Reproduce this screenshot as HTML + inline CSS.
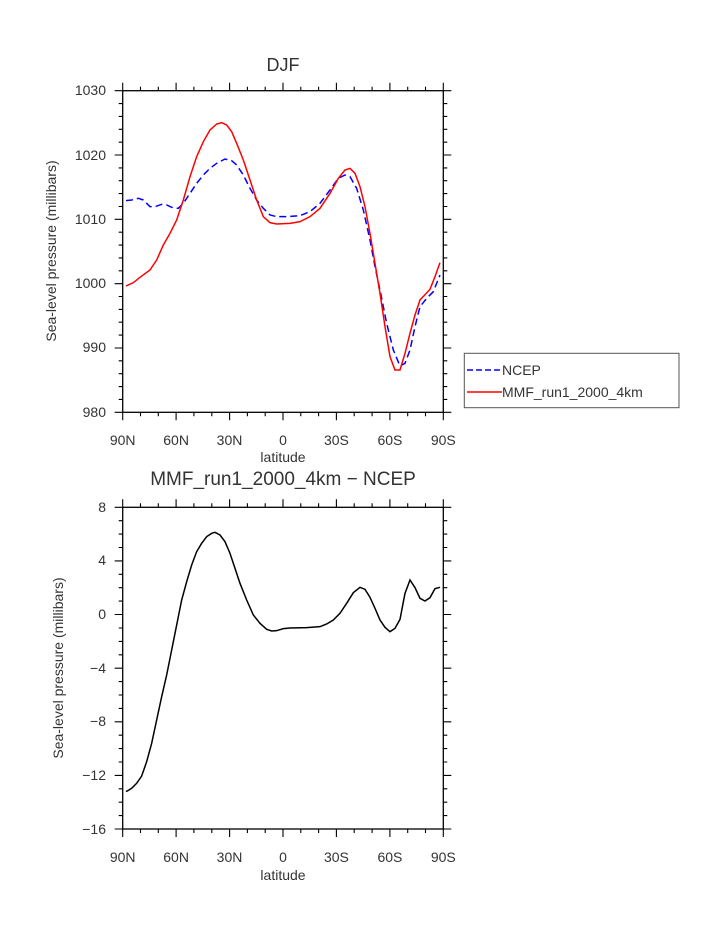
<!DOCTYPE html>
<html><head><meta charset="utf-8"><style>
body{margin:0;background:#fff;}
svg text{font-family:"Liberation Sans",sans-serif;fill:#333;}
</style></head><body>
<svg width="723" height="935" viewBox="0 0 723 935" xmlns="http://www.w3.org/2000/svg">
<text x="283" y="71" font-size="18" text-anchor="middle" fill="#555">DJF</text>
<rect x="122.7" y="90.7" width="320.6" height="321.6" fill="none" stroke="#000" stroke-width="1.3"/>
<path stroke="#000" stroke-width="1.1" fill="none" d="
M122.7 90.7v-8M140.5 90.7v-4M158.3 90.7v-4M176.1 90.7v-8M193.9 90.7v-4M211.8 90.7v-4M229.6 90.7v-8M247.4 90.7v-4M265.2 90.7v-4M283 90.7v-8M300.8 90.7v-4M318.6 90.7v-4M336.4 90.7v-8M354.2 90.7v-4M372.1 90.7v-4M389.9 90.7v-8M407.7 90.7v-4M425.5 90.7v-4M443.3 90.7v-8
M122.7 412.3v8M140.5 412.3v4M158.3 412.3v4M176.1 412.3v8M193.9 412.3v4M211.8 412.3v4M229.6 412.3v8M247.4 412.3v4M265.2 412.3v4M283 412.3v8M300.8 412.3v4M318.6 412.3v4M336.4 412.3v8M354.2 412.3v4M372.1 412.3v4M389.9 412.3v8M407.7 412.3v4M425.5 412.3v4M443.3 412.3v8
M122.7 90.7h-8M122.7 103.6h-4M122.7 116.4h-4M122.7 129.3h-4M122.7 142.2h-4M122.7 155h-8M122.7 167.9h-4M122.7 180.7h-4M122.7 193.6h-4M122.7 206.5h-4M122.7 219.3h-8M122.7 232.2h-4M122.7 245.1h-4M122.7 257.9h-4M122.7 270.8h-4M122.7 283.7h-8M122.7 296.5h-4M122.7 309.4h-4M122.7 322.2h-4M122.7 335.1h-4M122.7 348h-8M122.7 360.8h-4M122.7 373.7h-4M122.7 386.6h-4M122.7 399.4h-4M122.7 412.3h-8
M443.3 90.7h8M443.3 103.6h4M443.3 116.4h4M443.3 129.3h4M443.3 142.2h4M443.3 155h8M443.3 167.9h4M443.3 180.7h4M443.3 193.6h4M443.3 206.5h4M443.3 219.3h8M443.3 232.2h4M443.3 245.1h4M443.3 257.9h4M443.3 270.8h4M443.3 283.7h8M443.3 296.5h4M443.3 309.4h4M443.3 322.2h4M443.3 335.1h4M443.3 348h8M443.3 360.8h4M443.3 373.7h4M443.3 386.6h4M443.3 399.4h4M443.3 412.3h8"/>
<g transform="translate(100,60) scale(0.33333)" fill="none" stroke-width="1.5">
<polyline vector-effect="non-scaling-stroke" stroke="#0000ff" stroke-dasharray="7,4" points="78,422 95,420 115,415 130,420 150,440 165,440 185,433 200,435 215,442 235,445 250,430 270,400 290,370 310,345 330,325 350,310 375,297 395,302 410,315 430,345 450,385 470,420 490,445 510,465 530,470 560,470 600,467 630,455 660,430 690,390 715,355 735,345 750,350 770,385 790,450 810,540 825,620 840,690 860,790 880,870 900,918 915,910 930,870 945,800 960,740 980,715 1000,695 1020,645"/>
<polyline vector-effect="non-scaling-stroke" stroke="#ff0000" points="78,678 100,668 120,652 150,630 170,600 190,555 210,520 230,480 250,420 270,350 290,290 310,245 330,210 350,192 365,188 380,195 395,215 410,250 430,300 450,360 470,420 490,470 510,488 530,492 570,490 600,485 630,470 660,445 690,400 715,355 735,330 750,325 765,340 780,380 795,440 810,520 825,610 840,700 855,800 870,890 885,930 900,930 915,880 930,820 945,765 960,720 990,688 1005,650 1020,608"/>
</g>
<g font-size="14" text-anchor="end">
<text x="106" y="95">1030</text><text x="106" y="160">1020</text><text x="106" y="224">1010</text><text x="106" y="288">1000</text><text x="106" y="352">990</text><text x="106" y="417">980</text>
</g>
<g font-size="14" text-anchor="middle">
<text x="122.7" y="445">90N</text><text x="176.1" y="445">60N</text><text x="229.5" y="445">30N</text><text x="283" y="445">0</text><text x="336.4" y="445">30S</text><text x="389.9" y="445">60S</text><text x="443.3" y="445">90S</text>
<text x="283" y="462">latitude</text>
</g>
<text transform="translate(56,251) rotate(-90)" font-size="14" text-anchor="middle">Sea-level pressure (millibars)</text>
<rect x="464.3" y="353.3" width="214.7" height="54.4" fill="none" stroke="#555" stroke-width="1"/>
<line x1="467" y1="370" x2="502" y2="370" stroke="#0000ff" stroke-width="1.5" stroke-dasharray="6,3"/>
<line x1="467" y1="392" x2="502" y2="392" stroke="#ff0000" stroke-width="1.5"/>
<text x="502" y="375" font-size="14">NCEP</text>
<text x="502" y="397" font-size="14">MMF_run1_2000_4km</text>

<text x="283" y="485" font-size="19" text-anchor="middle" fill="#555">MMF_run1_2000_4km − NCEP</text>
<rect x="122.7" y="507.3" width="320.6" height="321.7" fill="none" stroke="#000" stroke-width="1.3"/>
<path stroke="#000" stroke-width="1.1" fill="none" d="
M122.7 507.3v-8M140.5 507.3v-4M158.3 507.3v-4M176.1 507.3v-8M193.9 507.3v-4M211.8 507.3v-4M229.6 507.3v-8M247.4 507.3v-4M265.2 507.3v-4M283 507.3v-8M300.8 507.3v-4M318.6 507.3v-4M336.4 507.3v-8M354.2 507.3v-4M372.1 507.3v-4M389.9 507.3v-8M407.7 507.3v-4M425.5 507.3v-4M443.3 507.3v-8
M122.7 829v8M140.5 829v4M158.3 829v4M176.1 829v8M193.9 829v4M211.8 829v4M229.6 829v8M247.4 829v4M265.2 829v4M283 829v8M300.8 829v4M318.6 829v4M336.4 829v8M354.2 829v4M372.1 829v4M389.9 829v8M407.7 829v4M425.5 829v4M443.3 829v8
M122.7 507.3h-8M122.7 520.7h-4M122.7 534.1h-4M122.7 547.5h-4M122.7 560.9h-8M122.7 574.3h-4M122.7 587.7h-4M122.7 601.1h-4M122.7 614.5h-8M122.7 628h-4M122.7 641.4h-4M122.7 654.8h-4M122.7 668.2h-8M122.7 681.6h-4M122.7 695h-4M122.7 708.4h-4M122.7 721.8h-8M122.7 735.2h-4M122.7 748.6h-4M122.7 762h-4M122.7 775.4h-8M122.7 788.8h-4M122.7 802.2h-4M122.7 815.6h-4M122.7 829h-8
M443.3 507.3h8M443.3 520.7h4M443.3 534.1h4M443.3 547.5h4M443.3 560.9h8M443.3 574.3h4M443.3 587.7h4M443.3 601.1h4M443.3 614.5h8M443.3 628h4M443.3 641.4h4M443.3 654.8h4M443.3 668.2h8M443.3 681.6h4M443.3 695h4M443.3 708.4h4M443.3 721.8h8M443.3 735.2h4M443.3 748.6h4M443.3 762h4M443.3 775.4h8M443.3 788.8h4M443.3 802.2h4M443.3 815.6h4M443.3 829h8"/>
<g transform="translate(100,490) scale(0.33333)" fill="none">
<polyline vector-effect="non-scaling-stroke" stroke="#000" stroke-width="1.5" points="78,905 95,895 110,880 125,858 140,815 155,760 170,690 185,620 200,555 215,480 230,405 245,330 260,275 275,225 290,185 305,160 320,140 335,130 345,127 360,135 375,155 390,190 405,235 420,280 440,330 460,375 480,400 500,418 515,423 530,422 550,416 570,414 620,413 660,410 680,402 700,390 720,370 740,340 760,308 780,292 795,298 810,322 825,355 840,390 855,412 870,425 885,415 900,388 915,310 930,270 945,293 960,325 975,333 990,323 1005,296 1020,292"/>
</g>
<g font-size="14" text-anchor="end">
<text x="106" y="512">8</text><text x="106" y="565">4</text><text x="106" y="619">0</text><text x="106" y="673">−4</text><text x="106" y="726">−8</text><text x="106" y="780">−12</text><text x="106" y="834">−16</text>
</g>
<g font-size="14" text-anchor="middle">
<text x="122.7" y="862">90N</text><text x="176.1" y="862">60N</text><text x="229.5" y="862">30N</text><text x="283" y="862">0</text><text x="336.4" y="862">30S</text><text x="389.9" y="862">60S</text><text x="443.3" y="862">90S</text>
<text x="283" y="880">latitude</text>
</g>
<text transform="translate(63,668) rotate(-90)" font-size="14" text-anchor="middle">Sea-level pressure (millibars)</text>
</svg>
</body></html>
